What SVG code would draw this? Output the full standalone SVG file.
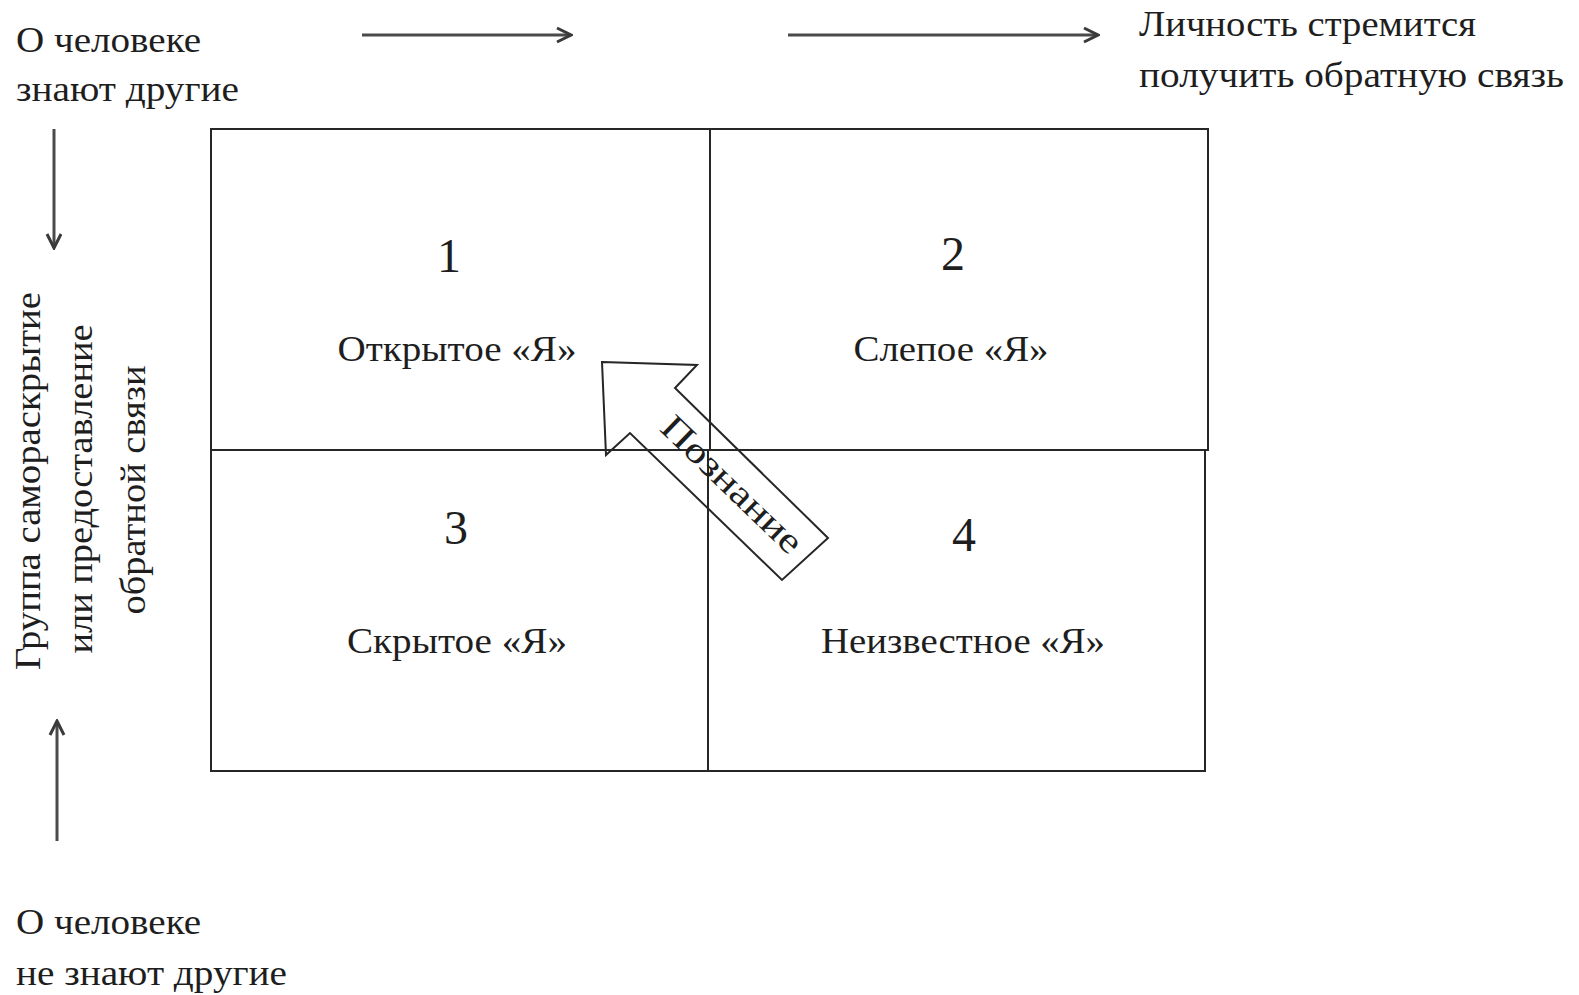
<svg xmlns="http://www.w3.org/2000/svg" width="1579" height="995" viewBox="0 0 1579 995">
<style>
text{font-family:"Liberation Serif","Times New Roman",serif;font-size:36px;fill:#1e1e1e}
.c{text-anchor:middle}
.d{font-size:48px}
.ln{stroke:#262626;stroke-width:2;fill:none}
.ar{stroke:#4a4a4a;stroke-width:3;fill:none}
</style>
<defs>
<marker id="ah" viewBox="0 0 18 18" refX="16" refY="9" markerWidth="18" markerHeight="18" markerUnits="userSpaceOnUse" orient="auto">
<path d="M2,2 L16,9 L2,16" fill="none" stroke="#3a3a3a" stroke-width="3"/>
</marker>
</defs>
<rect width="1579" height="995" fill="#fff"/>
<g id="labels">
<text x="16" y="52" textLength="185" lengthAdjust="spacingAndGlyphs">О человеке</text>
<text x="16" y="101" textLength="223" lengthAdjust="spacingAndGlyphs">знают другие</text>
<text x="1139" y="36" textLength="337" lengthAdjust="spacingAndGlyphs">Личность стремится</text>
<text x="1139" y="87" textLength="425" lengthAdjust="spacingAndGlyphs">получить обратную связь</text>
<text x="16" y="934" textLength="185" lengthAdjust="spacingAndGlyphs">О человеке</text>
<text x="16" y="985" textLength="271" lengthAdjust="spacingAndGlyphs">не знают другие</text>
<text class="c" transform="translate(40,481) rotate(-90)" textLength="378" lengthAdjust="spacingAndGlyphs">Группа самораскрытие</text>
<text class="c" transform="translate(92,489) rotate(-90)" textLength="329" lengthAdjust="spacingAndGlyphs">или предоставление</text>
<text class="c" transform="translate(145,490) rotate(-90)" textLength="249" lengthAdjust="spacingAndGlyphs">обратной связи</text>
</g>
<g id="connectors">
<line class="ar" x1="362" y1="35" x2="571" y2="35" marker-end="url(#ah)"/>
<line class="ar" x1="788" y1="35" x2="1098" y2="35" marker-end="url(#ah)"/>
<line class="ar" x1="54" y1="129" x2="54" y2="248" marker-end="url(#ah)"/>
<line class="ar" x1="57" y1="841" x2="57" y2="721" marker-end="url(#ah)"/>
</g>
<g id="q1">
<path class="ln" d="M211,450 V129 H710 V450"/>
<text class="c d" x="449" y="272">1</text>
<text class="c" x="457" y="361" textLength="239" lengthAdjust="spacingAndGlyphs">Открытое «Я»</text>
</g>
<g id="q2">
<path class="ln" d="M710,129 H1208 V450 H211"/>
<text class="c d" x="953" y="270">2</text>
<text class="c" x="951" y="361" textLength="195" lengthAdjust="spacingAndGlyphs">Слепое «Я»</text>
</g>
<g id="q3">
<path class="ln" d="M211,450 V771 H708 V450"/>
<text class="c d" x="456" y="544">3</text>
<text class="c" x="457" y="653" textLength="220" lengthAdjust="spacingAndGlyphs">Скрытое «Я»</text>
</g>
<g id="q4">
<path class="ln" d="M708,771 H1205 V450"/>
<text class="c d" x="964" y="551">4</text>
<text class="c" x="963" y="653" textLength="284" lengthAdjust="spacingAndGlyphs">Неизвестное «Я»</text>
</g>
<g id="arrow">
<polygon class="ln" points="602,362 697,365 675,388 828,538 782,580 630,433 606,455"/>
<text class="c" transform="translate(724,493) rotate(44)" textLength="182" lengthAdjust="spacingAndGlyphs">Познание</text>
</g>
</svg>
